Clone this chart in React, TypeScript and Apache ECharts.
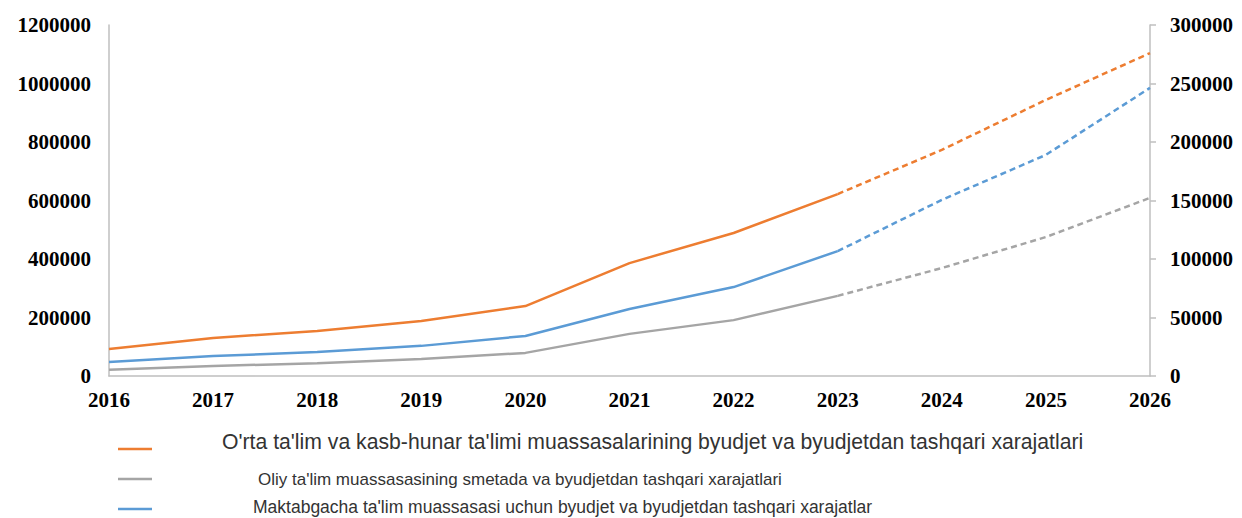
import React, { useEffect, useRef } from "react";
import * as echarts from "echarts";

const years = ["2016", "2017", "2018", "2019", "2020", "2021", "2022", "2023", "2024", "2025", "2026"];
const ortaActual = [92000, 130000, 154000, 188000, 239000, 386000, 489000, 622000, null, null, null];
const ortaForecast = [null, null, null, null, null, null, null, 622000, 773000, 944000, 1104000];
const oliyActual = [21000, 34000, 44000, 58000, 79000, 144000, 191000, 274000, null, null, null];
const oliyForecast = [null, null, null, null, null, null, null, 274000, 369000, 475000, 609000];
const maktabActual = [48000, 68000, 82000, 103000, 137000, 229000, 304000, 427000, null, null, null];
const maktabForecast = [null, null, null, null, null, null, null, 427000, 602000, 756000, 985000];
const legendNames = [
  "O'rta ta'lim va kasb-hunar ta'limi muassasalarining byudjet va byudjetdan tashqari xarajatlari",
  "Oliy ta'lim muassasasining smetada va byudjetdan tashqari xarajatlari",
  "Maktabgacha ta'lim muassasasi uchun byudjet va byudjetdan tashqari xarajatlar",
];
const colors = ["#ED7D31", "#A5A5A5", "#5B9BD5"];

export default function App() {
  const ref = useRef<HTMLDivElement>(null);
  useEffect(() => {
    if (!ref.current) return;
    const chart = echarts.init(ref.current, null, { renderer: "svg" });
    const axisLabel = {
      fontFamily: "Liberation Serif",
      fontWeight: "bold" as const,
      fontSize: 21,
      color: "#000",
      formatter: (v: any) => String(v),
    };
    const mkLine = (name: string, data: any[], color: string, dashed: boolean) => ({
      name,
      type: "line",
      data,
      yAxisIndex: 0,
      symbol: "none",
      connectNulls: false,
      lineStyle: { color, width: 2.5, type: dashed ? [6, 4] : "solid" },
      itemStyle: { color },
      z: 3,
    });
    const legendY = [441, 479, 507];
    const legendX = [222, 258, 253];
    const legendSize = [21.2, 17, 17.5];
    const iconY = [449, 479, 509];
    const graphics: any[] = [];
    legendNames.forEach((n, i) => {
      graphics.push({
        type: "line",
        shape: { x1: 118, y1: iconY[i], x2: 152, y2: iconY[i] },
        style: { stroke: colors[i], lineWidth: 2.5 },
      });
      graphics.push({
        type: "text",
        x: legendX[i],
        y: legendY[i],
        style: {
          text: n,
          fontFamily: "Liberation Sans",
          fontSize: legendSize[i],
          fill: "#333",
          verticalAlign: "middle",
        },
      });
    });
    chart.setOption({
      animation: false,
      backgroundColor: "#fff",
      grid: { left: 109, right: 92, top: 25, bottom: 142 },
      xAxis: {
        type: "category",
        data: years,
        boundaryGap: false,
        axisLine: { lineStyle: { color: "#BFBFBF", width: 1.5 } },
        axisTick: { show: false },
        axisLabel: { ...axisLabel, margin: 13 },
      },
      yAxis: [
        {
          type: "value",
          min: 0,
          max: 1200000,
          interval: 200000,
          axisLine: { show: true, lineStyle: { color: "#BFBFBF", width: 1.5 } },
          axisTick: { show: false },
          splitLine: { show: false },
          axisLabel: { ...axisLabel, margin: 18 },
        },
        {
          type: "value",
          min: 0,
          max: 300000,
          interval: 50000,
          position: "right",
          axisLine: { show: true, lineStyle: { color: "#BFBFBF", width: 1.5 } },
          axisTick: { show: true, length: 6, lineStyle: { color: "#BFBFBF", width: 1.5 } },
          splitLine: { show: false },
          axisLabel: { ...axisLabel, margin: 20 },
        },
      ],
      series: [
        mkLine(legendNames[0], ortaActual, colors[0], false),
        mkLine(legendNames[0] + " (prognoz)", ortaForecast, colors[0], true),
        mkLine(legendNames[1], oliyActual, colors[1], false),
        mkLine(legendNames[1] + " (prognoz)", oliyForecast, colors[1], true),
        mkLine(legendNames[2], maktabActual, colors[2], false),
        mkLine(legendNames[2] + " (prognoz)", maktabForecast, colors[2], true),
      ],
      graphic: graphics,
    });
    return () => chart.dispose();
  }, []);
  return <div ref={ref} style={{ width: 1242, height: 518, position: "absolute", left: 0, top: 0 }} />;
}
